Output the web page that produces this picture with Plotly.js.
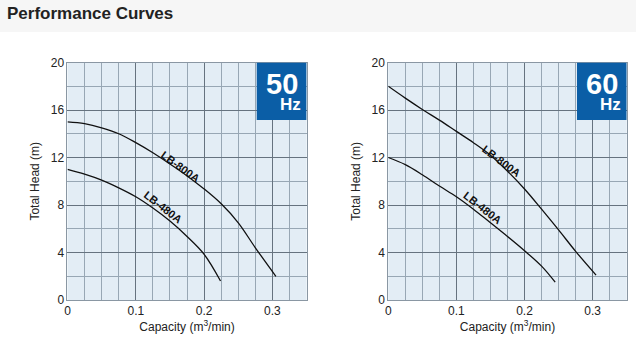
<!DOCTYPE html>
<html><head><meta charset="utf-8">
<script src="https://cdn.plot.ly/plotly-3.0.1.min.js"></script>
<style>html,body{margin:0;padding:0;background:#fff}#c{width:636px;height:355px}</style>
</head><body><div id="c"></div>
<script>
// 50 Hz
const q800_50 = [0, 0.025, 0.05, 0.075, 0.1, 0.125, 0.15, 0.175, 0.2, 0.225, 0.25, 0.275, 0.305];
const h800_50 = [15.0, 14.85, 14.5, 14.0, 13.25, 12.4, 11.45, 10.45, 9.35, 8.1, 6.5, 4.4, 2.0];
const q480_50 = [0, 0.025, 0.05, 0.075, 0.1, 0.125, 0.15, 0.175, 0.2, 0.224];
const h480_50 = [11.0, 10.6, 10.1, 9.45, 8.7, 7.75, 6.65, 5.35, 3.85, 1.6];
// 60 Hz
const q800_60 = [0, 0.025, 0.05, 0.075, 0.1, 0.125, 0.15, 0.175, 0.2, 0.225, 0.25, 0.275, 0.305];
const h800_60 = [18.0, 17.0, 16.05, 15.15, 14.2, 13.25, 12.2, 10.85, 9.35, 7.65, 5.9, 4.1, 2.1];
const q480_60 = [0, 0.025, 0.05, 0.075, 0.1, 0.125, 0.15, 0.175, 0.2, 0.225, 0.245];
const h480_60 = [12.0, 11.4, 10.55, 9.6, 8.7, 7.65, 6.5, 5.35, 4.15, 2.85, 1.5];
const xTickVals = [0, 0.1, 0.2, 0.3];
const xTickText = ["0", "0.1", "0.2", "0.3"];
const yTickVals = [0, 4, 8, 12, 16, 20];
const models = ["LB-800A", "LB-480A"];
const freqs = ["50", "60"];

const FONT = "Liberation Sans, Arial, sans-serif";
const lineStyle = {color: "#111", width: 1.3, shape: "spline", smoothing: 1.0};
const traces = [
  {x: q800_50, y: h800_50, xaxis: "x", yaxis: "y", mode: "lines", line: lineStyle},
  {x: q480_50, y: h480_50, xaxis: "x", yaxis: "y", mode: "lines", line: lineStyle},
  {x: q800_60, y: h800_60, xaxis: "x2", yaxis: "y2", mode: "lines", line: lineStyle},
  {x: q480_60, y: h480_60, xaxis: "x2", yaxis: "y2", mode: "lines", line: lineStyle}
];

function xa(dom, anchor) {
  return {domain: dom, anchor: anchor, range: [0, 0.35], tickvals: xTickVals, ticktext: xTickText,
    showgrid: true, gridcolor: "#66737f", gridwidth: 1,
    minor: {dtick: 0.025, tick0: 0, showgrid: true, gridcolor: "#98a7b4", gridwidth: 1},
    showline: true, linecolor: "#8a97a3", mirror: true, zeroline: false, ticks: "",
    tickfont: {family: FONT, size: 12, color: "#222"},
    title: {text: "Capacity (m<sup>3</sup>/min)", font: {family: FONT, size: 12, color: "#222"}, standoff: 3},
    fixedrange: true};
}
function ya(anchor) {
  return {domain: [0.1549, 0.8239], anchor: anchor, range: [0, 20], tickvals: yTickVals,
    showgrid: true, gridcolor: "#66737f", gridwidth: 1,
    minor: {dtick: 2, tick0: 0, showgrid: true, gridcolor: "#98a7b4", gridwidth: 1},
    showline: true, linecolor: "#8a97a3", mirror: true, zeroline: false, ticks: "",
    tickfont: {family: FONT, size: 12, color: "#222"},
    title: {text: "Total Head (m)", font: {family: FONT, size: 12, color: "#222"}, standoff: 8},
    fixedrange: true};
}

const badge = (xr, yr) => ({type: "rect", xref: xr, yref: yr, x0: 0.277, x1: 0.35, y0: 15.15, y1: 20,
  fillcolor: "#0b5ea6", line: {width: 0}, layer: "above"});

function lbl(txt, x, y, xr, yr, ang) {
  return {text: "<b>" + txt + "</b>", x: x, y: y, xref: xr, yref: yr, showarrow: false,
    textangle: ang, font: {family: FONT, size: 11, color: "#111"}};
}
function big(txt, x, y, xr, yr, size) {
  return {text: "<b>" + txt + "</b>", x: x, y: y, xref: xr, yref: yr, showarrow: false,
    font: {family: FONT, size: size, color: "#fff"}};
}

const layout = {
  width: 636, height: 355, margin: {l: 0, r: 0, t: 0, b: 0},
  paper_bgcolor: "#fff", plot_bgcolor: "#e3edf5", showlegend: false,
  title: {text: "<b>Performance Curves</b>", x: 0.011, xanchor: "left", y: 0.962, yanchor: "middle",
    font: {family: FONT, size: 17, color: "#222"}},
  xaxis: xa([0.1061, 0.4821], "y"), yaxis: ya("x"),
  xaxis2: xa([0.6105, 0.9854], "y2"), yaxis2: ya("x2"),
  shapes: [
    {type: "rect", xref: "paper", yref: "paper", x0: 0, x1: 1, y0: 0.91, y1: 1, fillcolor: "#f6f6f6", line: {width: 0}, layer: "below"},
    badge("x", "y"), badge("x2", "y2")
  ],
  annotations: [
    lbl(models[0], 0.166, 11.2, "x", "y", 36),
    lbl(models[1], 0.140, 7.86, "x", "y", 38),
    lbl(models[0], 0.166, 11.7, "x2", "y2", 37),
    lbl(models[1], 0.139, 7.72, "x2", "y2", 38),
    big(freqs[0], 0.3133, 18.2, "x", "y", 29),
    big("Hz", 0.3265, 16.45, "x", "y", 17),
    big(freqs[1], 0.3133, 18.2, "x2", "y2", 29),
    big("Hz", 0.3265, 16.45, "x2", "y2", 17)
  ]
};
Plotly.newPlot("c", traces, layout, {staticPlot: true, displayModeBar: false});
</script></body></html>
